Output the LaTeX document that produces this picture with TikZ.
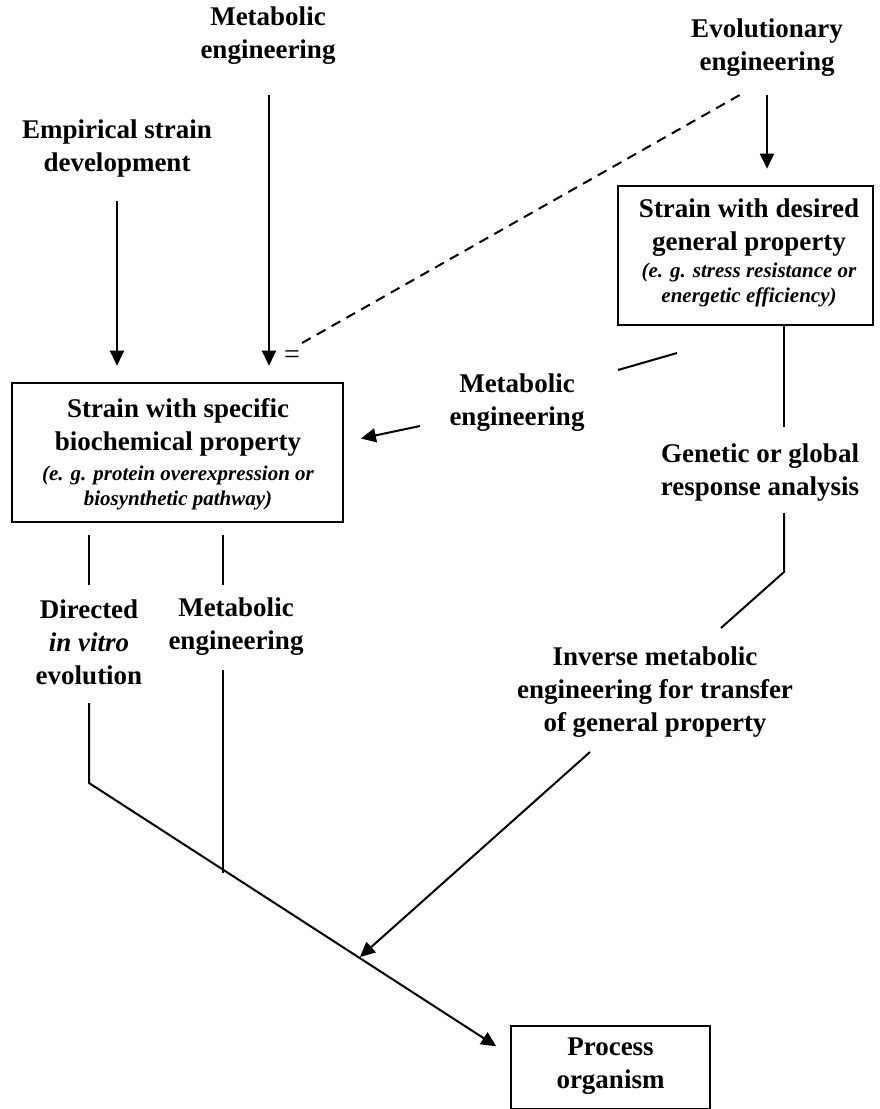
\documentclass[tikz,border=0pt]{standalone}
\usepackage{fontspec}
\setmainfont{Liberation Serif}
\usetikzlibrary{arrows.meta}
\begin{document}
\begin{tikzpicture}[x=1pt,y=-1pt,
  lbl/.style={font=\bfseries\fontsize{27}{33}\selectfont,align=center,inner sep=0pt},
  note/.style={font=\bfseries\itshape\fontsize{21}{25.5}\selectfont,align=center,inner sep=0pt},
  box/.style={draw,line width=2.6pt,inner sep=0pt},
  arr/.style={line width=2pt,-{Triangle[length=15pt,width=14pt]}},
  ln/.style={line width=2pt}]
  \useasboundingbox (0,0) rectangle (880,1109);

  % boxes
  \node[box,minimum width=331pt,minimum height=139pt] (spec) at (177.5,452.5) {};
  \node[lbl] (spectitle) at (178,427) {Strain with specific\\biochemical property};
  \node[note] (specnote) at (178,488) {(e. g. protein overexpression or\\biosynthetic pathway)};

  \node[box,minimum width=255pt,minimum height=139pt] (gen) at (745.5,255.5) {};
  \node[lbl] (gentitle) at (749,228) {Strain with desired\\general property};
  \node[note] (gennote) at (749,285) {(e. g. stress resistance or\\energetic efficiency)};

  \node[box,minimum width=199pt,minimum height=83pt] (proc) at (610.5,1067.5) {};
  \node[lbl] (proctitle) at (610.5,1066) {Process\\organism};

  % labels
  \node[lbl] (emp) at (117,149) {Empirical strain\\development};
  \node[lbl] (metatop) at (268,36) {Metabolic\\engineering};
  \node[lbl] (evo) at (767,48) {Evolutionary\\engineering};
  \node[lbl] (metamid) at (517,403) {Metabolic\\engineering};
  \node[lbl] (resp) at (760,473) {Genetic or global\\response analysis};
  \node[lbl] (inv) at (655,692) {Inverse metabolic\\engineering for transfer\\of general property};
  \node[lbl] (dir) at (89,642) {Directed\\\textit{in vitro}\\evolution};
  \node[lbl] (metalow) at (236,627) {Metabolic\\engineering};
  \node[font=\fontsize{28}{30}\selectfont,inner sep=0pt] (eq) at (292,357) {=};

  % arrows into the boxes
  \coordinate (empfoot) at (117,201);
  \coordinate (metafoot) at (269,95);
  \coordinate (evofoot) at (767,95);
  \draw[arr,shorten >=16pt] (empfoot) -- (empfoot |- spec.north);
  \draw[arr,shorten >=16pt] (metafoot) -- (metafoot |- spec.north);
  \draw[arr,shorten >=16pt] (evofoot) -- (evofoot |- gen.north);
  \coordinate (dashlow) at (302,343);
  \coordinate (dashhigh) at (745,92);
  \draw[ln,dash pattern=on 10pt off 7pt] (dashlow) -- (dashhigh);

  % gen -> spec
  \coordinate (midhigh) at (677,353);
  \coordinate (midlow) at (618,370);
  \coordinate (midstart) at (420,426);
  \draw[ln] (midhigh) -- (midlow);
  \draw[arr,shorten >=17pt] (midstart) -- (spec.east |- 0,442);

  % gen -> process organism
  \coordinate (resptop) at (784,427);
  \coordinate (respfoot) at (784,513);
  \coordinate (respbend) at (784,572);
  \coordinate (respend) at (721,628);
  \coordinate (invfoot) at (590,752);
  \coordinate (invtip) at (360,957);
  \draw[ln] (gen.south -| resptop) -- (resptop);
  \draw[ln] (respfoot) -- (respbend) -- (respend);
  \draw[arr] (invfoot) -- (invtip);

  % spec -> process organism
  \foreach \x in {89,223}
    \draw[ln] (\x,535) -- (\x,585);
  \coordinate (dirfoot) at (89,703);
  \coordinate (dirbend) at (89,783);
  \coordinate (metafork) at (223,670);
  \draw[arr,shorten >=16pt] (dirfoot) -- (dirbend) -- (proc.west |- 0,1055);
  \draw[ln] (metafork) -- (223,873);
\end{tikzpicture}
\end{document}
